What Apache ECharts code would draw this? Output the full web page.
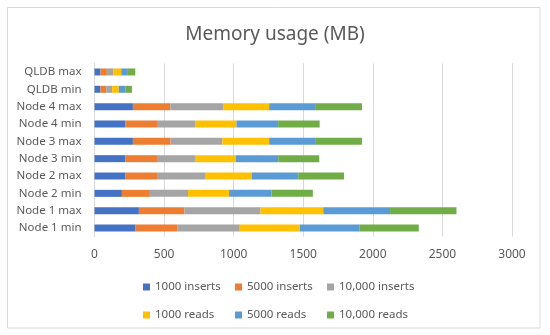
<!DOCTYPE html>
<html><head><meta charset="utf-8">
<script src="https://cdn.jsdelivr.net/npm/echarts@6/dist/echarts.min.js"></script>
<style>html,body{margin:0;padding:0;background:#fff}#c{width:550px;height:335px}</style>
</head><body><div id="c"></div>
<script>
const categories = ['Node 1 min','Node 1 max','Node 2 min','Node 2 max','Node 3 min','Node 3 max','Node 4 min','Node 4 max','QLDB min','QLDB max'];
const seriesNames = ['1000 inserts','5000 inserts','10,000 inserts','1000 reads','5000 reads','10,000 reads'];
const inserts1000 = [295, 319, 197, 221, 221, 276, 221, 276, 43, 43];
const inserts5000 = [300, 327, 201, 228, 228, 271, 228, 269, 41, 46];
const inserts10000 = [449, 547, 274, 345, 273, 372, 273, 379, 43, 48];
const reads1000 = [432, 451, 295, 336, 293, 336, 298, 331, 48, 55];
const reads5000 = [430, 480, 305, 334, 305, 336, 300, 336, 46, 48];
const reads10000 = [424, 477, 297, 329, 295, 331, 298, 331, 48, 53];
const colors = ['#4472C4','#ED7D31','#A5A5A5','#FFC000','#5B9BD5','#70AD47'];
const seriesData = [inserts1000, inserts5000, inserts10000, reads1000, reads5000, reads10000];
const FONT = 'Noto Sans';
const chart = echarts.init(document.getElementById('c'), null, {renderer:'canvas'});
const legendCols = [143, 235, 327];
const legendRows = [281, 309];
const legends = seriesNames.map((n,i)=>({
  orient:'horizontal', left:legendCols[i%3], top:legendRows[Math.floor(i/3)],
  itemWidth:7, itemHeight:7, itemGap:0, icon:'rect', padding:0,
  textStyle:{color:'#595959', fontFamily:FONT, fontSize:11.5},
  data:[n]
}));
chart.setOption({
  animation:false,
  color: colors,
  title:{text:'Memory usage (MB)', left:'center', top:20,
    textStyle:{color:'#595959', fontFamily:FONT, fontSize:19, fontWeight:'normal'}},
  graphic:[{type:'rect', shape:{x:7.5,y:7.5,width:532.5,height:320.5}, style:{fill:null, stroke:'#d9d9d9', lineWidth:1}, silent:true}],
  legend: legends,
  grid:{left:94.5, right:38, top:63.3, height:173.4, containLabel:false},
  xAxis:{type:'value', min:0, max:3000, interval:500,
    axisLine:{show:false}, axisTick:{show:false},
    splitLine:{lineStyle:{color:'#d9d9d9'}},
    axisLabel:{color:'#595959', fontFamily:FONT, fontSize:12, margin:12, formatter:(v)=>String(v)}},
  yAxis:{type:'category', data:categories,
    axisLine:{show:true, lineStyle:{color:'#d9d9d9'}}, axisTick:{show:false},
    axisLabel:{color:'#595959', fontFamily:FONT, fontSize:11.5, margin:13}},
  series: seriesNames.map((n,i)=>({name:n, type:'bar', stack:'total', data:seriesData[i], barWidth:7}))
});
</script></body></html>
